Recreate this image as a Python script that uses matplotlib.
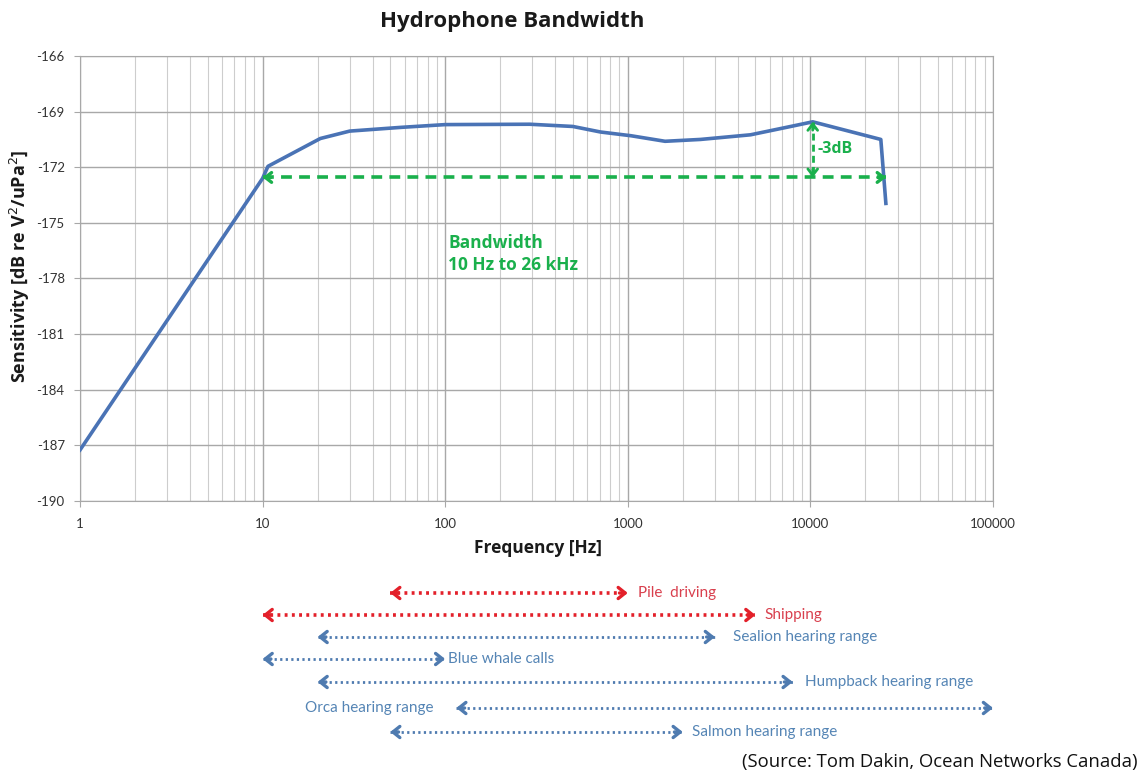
import matplotlib
matplotlib.use('Agg')
import matplotlib.pyplot as plt
from matplotlib.ticker import LogLocator, FixedLocator, NullFormatter

# hydrophone response curve
freq_hz = [1, 10, 10.7, 20.7, 30, 57, 100, 290, 500, 710, 1040, 1600, 2500,
           4700, 7800, 10300, 24300, 25900]
sens_db = [-187.25, -172.6, -171.95, -170.45, -170.05, -169.85, -169.7, -169.68,
           -169.8, -170.1, -170.3, -170.6, -170.5, -170.25, -169.8, -169.55,
           -170.5, -173.95]

# -3 dB bandwidth
band_lo, band_hi = 10, 26000
peak_freq, peak_db = 10300, -169.55
cut_db = peak_db - 3

yticks = [-166, -169, -172, -175, -178, -181, -184, -187, -190]
xticks = [1, 10, 100, 1000, 10000, 100000]
xtick_labels = ['1', '10', '100', '1000', '10000', '100000']

# source / listener frequency ranges shown under the chart
range_names = ['Pile  driving', 'Shipping', 'Sealion hearing range', 'Blue whale calls',
               'Humpback hearing range', 'Orca hearing range', 'Salmon hearing range']
range_lo = [50, 10, 20, 10, 20, 115, 50]
range_hi = [1000, 5000, 3000, 100, 8000, 100000, 2000]
range_kind = ['noise', 'noise', 'animal', 'animal', 'animal', 'animal', 'animal']

plt.rcParams['font.family'] = ['Lato', 'DejaVu Sans']
bold_font = ['Open Sans', 'DejaVu Sans']

W, H = 1141, 773
fig = plt.figure(figsize=(W / 100, H / 100), dpi=100)


def fx(px):
    return px / W


def fy(py):
    return 1 - py / H


ax = fig.add_axes([fx(80), fy(501), fx(993) - fx(80), fy(56) - fy(501)])
ax.set_xscale('log')
ax.set_xlim(1, 1e5)
ax.set_ylim(-190, -166)

ax.xaxis.set_major_locator(FixedLocator(xticks))
ax.set_xticks(xticks, xtick_labels)
ax.xaxis.set_minor_locator(LogLocator(base=10, subs=range(2, 10), numticks=20))
ax.xaxis.set_minor_formatter(NullFormatter())
ax.set_yticks(yticks, [str(v) for v in yticks])

ax.grid(True, which='major', axis='both', color='#a8a8a8', lw=1.0)
ax.grid(True, which='minor', axis='x', color='#cdcdcd', lw=0.8)
ax.set_axisbelow(True)
for sp in ax.spines.values():
    sp.set_color('#a8a8a8')
ax.tick_params(axis='both', which='major', labelsize=9.5, colors='#a8a8a8',
               labelcolor='#333333', length=4)
ax.tick_params(axis='y', which='major', pad=7)
ax.tick_params(axis='x', which='major', pad=8)
ax.tick_params(axis='x', which='minor', length=0)

ax.plot(freq_hz, sens_db, color='#4a73b5', lw=2.6, solid_joinstyle='round', zorder=4)

green = '#1ab04c'
ax.plot([band_lo, band_hi], [cut_db, cut_db], color=green, lw=2.6,
        linestyle=(0, (3, 2)), zorder=5)
ax.plot([peak_freq, peak_freq], [peak_db, cut_db], color=green, lw=2.0,
        linestyle=(0, (2.5, 1.5)), zorder=5)


def chevron(a, x, y, dx, dy, color, lw, hl=0.45, hw=0.35):
    a.annotate('', xy=(x, y), xytext=(dx, dy), textcoords='offset points',
               arrowprops=dict(arrowstyle=f'->,head_length={hl},head_width={hw}',
                               color=color, lw=lw, shrinkA=0, shrinkB=0), zorder=6)


chevron(ax, band_lo, cut_db, 6, 0, green, 2.4)
chevron(ax, band_hi, cut_db, -6, 0, green, 2.4)
chevron(ax, peak_freq, peak_db, 0, -6, green, 2.0)
chevron(ax, peak_freq, cut_db, 0, 6, green, 2.0)

ax.text(11000, -171.0, '-3dB', color=green, fontsize=11.5, fontweight='bold',
        family=bold_font, ha='left', va='center')
ax.text(104, -176.7, 'Bandwidth\n10 Hz to 26 kHz', color=green, fontsize=12.5,
        fontweight='bold', family=bold_font, ha='left', va='center', linespacing=1.3)

fig.text(fx(512), fy(22), 'Hydrophone Bandwidth', fontsize=16, fontweight='bold',
         family=bold_font, ha='center', va='center', color='#1a1a1a')
fig.text(fx(538), fy(548), 'Frequency [Hz]', fontsize=12.5, fontweight='bold',
         family=bold_font, ha='center', va='center', color='#1a1a1a')
fig.text(fx(20), fy(266), 'Sensitivity [dB re V$^2$/uPa$^2$]', fontsize=13,
         fontweight='bold', family=bold_font, rotation=90, ha='center', va='center',
         color='#1a1a1a')

# range arrows on a log axis aligned with the chart above
rx = fig.add_axes([fx(80), fy(750), fx(993) - fx(80), fy(575) - fy(750)])
rx.set_xscale('log')
rx.set_xlim(1, 1e5)
rx.set_ylim(750, 575)
rx.axis('off')

row_y = [593, 615, 637, 659, 682, 708, 732]
arrow_col = {'noise': '#e3202a', 'animal': '#4f7bb0'}
text_col = {'noise': '#d9404e', 'animal': '#5585b5'}
label_gap = [10, 9, 18, 3, 12, None, 9]

for name, lo, hi, kind, y, gap in zip(range_names, range_lo, range_hi, range_kind,
                                      row_y, label_gap):
    c = arrow_col[kind]
    rx.plot([lo, hi], [y, y], color=c, lw=2.6 if kind == 'noise' else 2.0,
            linestyle=(0, (0.8, 1.2)), solid_capstyle='butt')
    chevron(rx, lo, y, 6, 0, c, 2.4, hl=0.5, hw=0.4)
    chevron(rx, hi, y, -6, 0, c, 2.4, hl=0.5, hw=0.4)
    if gap is None:
        rx.annotate(name, xy=(lo, y), xytext=(-23 * 0.72, 0), textcoords='offset points',
                    ha='right', va='center', fontsize=11, color=text_col[kind])
    else:
        rx.annotate(name, xy=(hi, y), xytext=(gap * 0.72, 0), textcoords='offset points',
                    ha='left', va='center', fontsize=11, color=text_col[kind])

fig.text(fx(1137), fy(762), '(Source: Tom Dakin, Ocean Networks Canada)', fontsize=13.3,
         family=['Open Sans', 'DejaVu Sans'], ha='right', va='center', color='#111111')

fig.savefig('out.png', dpi=100)
